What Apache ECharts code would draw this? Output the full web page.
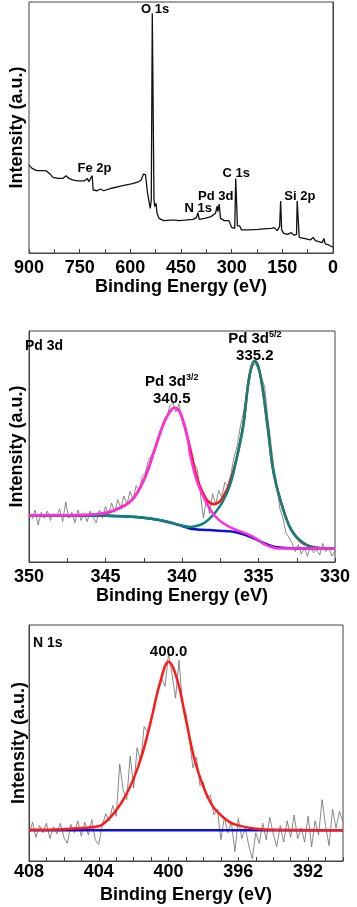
<!DOCTYPE html>
<html>
<head>
<meta charset="utf-8">
<script src="https://cdn.jsdelivr.net/npm/echarts@6/dist/echarts.min.js"></script>
<style>
  html, body { margin: 0; padding: 0; background: #fff; }
  #main { width: 357px; height: 907px; }
</style>
</head>
<body>
<div id="main"></div>
<script>
// XPS 数据 (binding energy, intensity a.u.)
var surveyData = [
  [900, 35.1], [891, 33.7], [877, 32.8], [862, 32.8], [848, 32.7], [838, 31.5], [829, 30.1],
  [814, 29.7], [800, 29.7], [790, 30.8], [782, 29.7], [771, 29.1], [756, 28.7], [737, 28.7],
  [727, 29.7], [723, 28.4], [718, 29.1], [713, 30.8], [710, 25.1], [698, 24.8], [689, 25.5],
  [679, 24.8], [655, 25.8], [626, 26.7], [597, 27.5], [578, 28.2], [568, 29.1], [561, 31.5],
  [555, 31.1], [549, 23.8], [541, 17.8], [538, 21.1], [535, 95.5], [532, 95.5], [530, 21.1],
  [528, 18.5], [524, 19.8], [521, 15.8], [515, 13.8], [501, 12.9], [481, 13.1], [467, 13.1],
  [462, 13.8], [457, 12.9], [438, 13.1], [414, 13.4], [404, 14.2], [400, 16.1], [396, 13.4],
  [380, 13.8], [361, 14.5], [348, 15.8], [343, 18.7], [341, 16.5], [337, 19.5], [333, 13.8],
  [322, 12.9], [308, 12.9], [300, 10.2], [291, 9.8], [288, 29.7], [285, 29.7], [283, 10.8],
  [279, 10.1], [276, 10.8], [271, 9.2], [250, 9.2], [221, 9.4], [197, 9.7], [182, 9.8],
  [174, 10.1], [165, 8.9], [158, 10.5], [155, 20.7], [152, 9.2], [146, 7.8], [134, 7.4],
  [124, 8.1], [115, 7.1], [108, 7.4], [106, 20.7], [103, 20.7], [100, 6.2], [96, 6.8],
  [86, 5.8], [67, 5.2], [59, 6.2], [52, 4.9], [32, 4.1], [27, 5.8], [23, 3.6], [13, 3.2], [0, 2.3]
]
var surveyLabels = [
  ['O 1s', 526.7, 97.0], ['Fe 2p', 706, 33.5], ['N 1s', 399, 17.9],
  ['Pd 3d', 347, 22.7], ['C 1s', 286.5, 31.9], ['Si 2p', 98, 22.7]
]

var pdRaw = [
  [349.8, 18.5], [349.6, 22.5], [349.4, 16.0], [349.2, 21.5], [349.0, 19.0], [348.8, 22.0],
  [348.6, 18.0], [348.4, 21.0], [348.2, 19.5], [348.0, 23.0], [347.8, 17.5], [347.6, 26.0],
  [347.4, 19.0], [347.2, 21.5], [347.0, 17.0], [346.8, 22.5], [346.6, 18.0], [346.4, 21.0],
  [346.2, 17.5], [346.0, 22.0], [345.8, 19.0], [345.6, 17.0], [345.4, 22.5], [345.2, 19.0],
  [345.0, 24.0], [344.8, 20.5], [344.6, 25.5], [344.4, 21.5], [344.2, 27.0], [344.0, 23.5],
  [343.8, 28.5], [343.6, 25.0], [343.4, 30.5], [343.2, 27.0], [343.0, 33.0], [342.8, 31.0],
  [342.6, 37.0], [342.4, 38.5], [342.2, 44.0], [342.0, 46.0], [341.8, 48.0], [341.6, 53.5],
  [341.4, 56.0], [341.2, 60.5], [341.0, 62.5], [340.8, 67.5], [340.6, 69.0], [340.4, 65.0],
  [340.2, 68.5], [340.0, 61.5], [339.8, 58.5], [339.6, 54.0], [339.4, 48.5], [339.2, 42.5],
  [339.0, 40.0], [338.8, 30.0], [338.6, 19.0], [338.4, 27.5], [338.2, 21.0], [338.0, 29.5],
  [337.8, 25.0], [337.6, 31.0], [337.4, 28.0], [337.2, 34.5], [337.0, 33.0], [336.8, 38.0],
  [336.6, 45.5], [336.4, 50.0], [336.2, 58.0], [336.0, 64.5], [335.8, 72.0], [335.6, 79.0],
  [335.4, 84.5], [335.2, 86.0], [335.0, 83.5], [334.8, 79.5], [334.6, 76.0], [334.4, 63.0],
  [334.2, 52.0], [334.0, 41.0], [333.8, 33.5], [333.6, 23.0], [333.4, 19.0], [333.2, 12.5],
  [333.0, 10.5], [332.8, 8.0], [332.6, 4.5], [332.4, 7.5], [332.2, 3.5], [332.0, 6.0],
  [331.8, 2.5], [331.6, 7.0], [331.4, 4.0], [331.2, 5.5], [331.0, 3.0], [330.8, 8.0],
  [330.6, 4.5], [330.4, 6.0], [330.2, 2.5], [330.0, 5.0]
]
var pdBackground = [
  [350, 20.2], [345, 20.0], [343, 19.5], [342, 18.7], [341, 17.4], [340, 15.6], [339.5, 14.5],
  [339, 14.1], [338.5, 13.9], [338, 13.7], [337, 13.3], [336.5, 12.9], [336, 12.0], [335.5, 10.8],
  [335, 9.3], [334.5, 7.8], [334, 6.6], [333, 6.0], [332, 5.8], [330, 5.8]
]
var pdEnvelope = [
  [350, 20.2], [346, 20.4], [345, 21.0], [344.4, 22.4], [343.3, 26.7], [342.5, 35.4],
  [341.8, 48.4], [341.2, 60.0], [340.8, 65.0], [340.5, 66.8], [340.1, 64.3], [339.6, 52.7],
  [339.0, 36.0], [338.6, 29.5], [338.3, 26.3], [337.9, 25.0], [337.5, 26.5], [337.2, 29.5],
  [336.9, 34.0], [336.5, 43.0], [336.0, 59.0], [335.6, 80.2], [335.25, 87.0], [334.9, 81.6],
  [334.4, 58.5], [334.0, 38.3], [333.3, 21.0], [332.7, 12.3], [331.8, 7.2], [330, 5.8]
]
var pd52 = [
  [350, 20.2], [345, 20.0], [343, 19.5], [342, 18.7], [341, 17.5], [340, 15.8], [339.5, 15.2],
  [339.05, 15.6], [338.6, 16.7], [338.2, 18.8], [337.8, 21.6], [337.35, 26.0], [336.9, 32.5],
  [336.5, 42.6], [336.0, 59.0], [335.6, 80.2], [335.25, 87.0], [334.9, 81.6], [334.4, 58.5],
  [334.0, 38.3], [333.3, 21.0], [332.7, 12.3], [331.8, 7.2], [331, 6.0], [330, 5.8]
]
var pd32 = [
  [350, 20.2], [346.1, 20.5], [344.4, 22.4], [343.3, 26.7], [342.5, 35.4], [341.8, 48.4],
  [341.2, 60.0], [340.8, 65.0], [340.5, 66.8], [340.1, 64.3], [339.6, 52.7], [339.48, 47.0],
  [339.05, 35.5], [338.6, 28.3], [338.2, 23.2], [337.8, 19.6], [337.35, 17.0], [336.7, 14.6],
  [335.6, 11.7], [335.0, 9.5], [334.6, 7.6], [334.0, 6.2], [333.5, 5.8], [330, 5.8]
]

var nRaw = [
  [408.0, 11.0], [407.8, 16.5], [407.6, 10.0], [407.4, 15.0], [407.2, 12.0], [407.0, 16.0],
  [406.8, 9.5], [406.6, 14.5], [406.4, 11.5], [406.2, 16.0], [406.0, 10.0], [405.8, 7.5],
  [405.6, 15.5], [405.4, 12.0], [405.2, 17.0], [405.0, 10.5], [404.8, 16.5], [404.6, 11.0],
  [404.4, 17.5], [404.2, 9.0], [404.0, 7.0], [403.8, 15.0], [403.6, 20.0], [403.4, 17.0],
  [403.2, 23.5], [403.0, 19.0], [402.8, 41.0], [402.6, 30.0], [402.4, 26.0], [402.2, 44.5],
  [402.0, 31.0], [401.8, 48.0], [401.6, 42.0], [401.4, 57.0], [401.2, 54.5], [401.0, 59.0],
  [400.8, 67.5], [400.6, 72.0], [400.4, 77.5], [400.2, 74.0], [400.0, 88.0], [399.8, 79.0],
  [399.6, 69.0], [399.4, 85.0], [399.2, 66.0], [399.0, 62.5], [398.8, 51.0], [398.6, 39.5],
  [398.4, 44.0], [398.2, 32.0], [398.0, 33.5], [397.8, 26.5], [397.6, 28.0], [397.4, 19.5],
  [397.2, 22.0], [397.0, 9.0], [396.8, 18.5], [396.6, 12.0], [396.4, 16.5], [396.2, 4.0],
  [396.0, 18.0], [395.8, 9.5], [395.6, 14.0], [395.4, 6.5], [395.2, 1.0], [395.0, 12.0],
  [394.8, 7.5], [394.6, 16.0], [394.4, 9.0], [394.2, 18.5], [394.0, 11.5], [393.8, 6.0],
  [393.6, 15.0], [393.4, 8.0], [393.2, 17.0], [393.0, 10.0], [392.8, 19.5], [392.6, 9.5],
  [392.4, 14.0], [392.2, 8.0], [392.0, 19.0], [391.8, 6.0], [391.6, 17.0], [391.4, 11.0],
  [391.2, 26.0], [391.0, 15.0], [390.8, 6.5], [390.6, 22.0], [390.4, 14.0], [390.2, 21.0],
  [390.0, 16.5]
]
var nFit = [
  [408, 13.2], [406, 13.5], [405, 14.0], [404, 14.7], [403.5, 17.3], [403, 21.5], [402.5, 27.2],
  [402, 34.9], [401.5, 45.5], [401, 59.7], [400.5, 75.2], [400, 84.4], [399.5, 76.7],
  [399, 59.7], [398.5, 42.7], [398, 31.4], [397.5, 23.6], [397, 19.4], [396.5, 16.5],
  [396, 15.1], [395, 13.7], [394, 13.2], [390, 13.0]
]
var nBackground = [[408, 13.0], [390, 13.0]]

var myChart = echarts.init(document.getElementById('main'))

var FONT = 'Liberation Sans, Arial, sans-serif'
var AXIS_COLOR = '#444'

// 公共的 x 轴
function makeX(idx, min, max, interval, minor, gap, margin, formatter) {
  return {
    type: 'value',
    gridIndex: idx,
    min: min,
    max: max,
    interval: interval,
    inverse: true,
    name: 'Binding Energy (eV)',
    nameLocation: 'middle',
    nameGap: gap,
    nameTextStyle: { fontFamily: FONT, fontWeight: 'bold', fontSize: 18, color: '#000' },
    axisLine: { lineStyle: { color: AXIS_COLOR, width: 1 } },
    axisTick: { inside: true, length: 4, lineStyle: { color: AXIS_COLOR } },
    minorTick: { show: minor > 0, splitNumber: minor || 5, length: 4, lineStyle: { color: AXIS_COLOR } },
    splitLine: { show: false },
    axisLabel: {
      margin: margin,
      fontFamily: FONT, fontWeight: 'bold', fontSize: 18, color: '#000',
      formatter: formatter
    }
  }
}
function makeY(idx, gap) {
  return {
    type: 'value',
    gridIndex: idx,
    min: 0,
    max: 100,
    name: 'Intensity (a.u.)',
    nameLocation: 'middle',
    nameGap: gap,
    nameTextStyle: { fontFamily: FONT, fontWeight: 'bold', fontSize: 18, color: '#000' },
    axisLine: { show: true, lineStyle: { color: AXIS_COLOR, width: 1 } },
    axisTick: { show: false },
    axisLabel: { show: false },
    splitLine: { show: false }
  }
}

function labelPoints(list, size) {
  return {
    symbol: 'circle',
    symbolSize: 0,
    silent: true,
    label: {
      show: true, position: 'inside', formatter: '{b}',
      fontFamily: FONT, fontWeight: 'bold', fontSize: size, color: '#000'
    },
    data: list.map(function (d) { return { name: d[0], coord: [d[1], d[2]] } })
  }
}

var supRich = {
  a: { fontFamily: FONT, fontWeight: 'bold', fontSize: 15, color: '#000', lineHeight: 16 },
  s: { fontFamily: FONT, fontWeight: 'bold', fontSize: 9, color: '#000', padding: [0, 0, 9, 0] }
}

function line(idx, data, color, width, smooth, z, mp) {
  var s = {
    type: 'line',
    xAxisIndex: idx,
    yAxisIndex: idx,
    data: data,
    symbol: 'none',
    smooth: smooth,
    z: z,
    lineStyle: { color: color, width: width },
    silent: true
  }
  if (mp) s.markPoint = mp
  return s
}

var option = {
  animation: false,
  backgroundColor: '#fff',
  title: [
    { text: 'Pd 3d', left: 25, top: 339, padding: 0,
      textStyle: { fontFamily: FONT, fontWeight: 'bold', fontSize: 14, color: '#000' } },
    { text: 'N 1s', left: 33, top: 636, padding: 0,
      textStyle: { fontFamily: FONT, fontWeight: 'bold', fontSize: 14, color: '#000' } }
  ],
  grid: [
    { left: 22, top: 2, width: 311, height: 251, show: true, borderColor: AXIS_COLOR, borderWidth: 1 },
    { left: 22, top: 331, width: 313, height: 231, show: true, borderColor: AXIS_COLOR, borderWidth: 1 },
    { left: 29, top: 625, width: 314, height: 236, show: true, borderColor: AXIS_COLOR, borderWidth: 1 }
  ],
  xAxis: [
    makeX(0, 0, 900, 150, 2, 24, 6),
    makeX(1, 330, 350, 5, 2, 22, 6),
    makeX(2, 390, 408, 1, 0, 25, 2, function (v) { return (v - 392) % 4 === 0 ? String(v) : '' })
  ],
  yAxis: [makeY(0, 3), makeY(1, 3), makeY(2, 1)],
  series: [
    line(0, surveyData, '#111', 1.3, false, 2, labelPoints(surveyLabels, 13)),

    line(1, pdRaw, '#6b6b6b', 0.8, false, 2),
    line(1, pdBackground, '#1010d0', 2.5, 0.4, 3),
    line(1, pdEnvelope, '#ff1010', 2.5, 0.4, 4),
    line(1, pd52, '#0b8479', 2.5, 0.4, 5, {
      symbol: 'circle', symbolSize: 0, silent: true,
      label: { show: true, position: 'inside', rich: supRich,
        formatter: '{a|Pd 3d}{s|5/2}\n{a|335.2}' },
      data: [{ coord: [335.24, 93.1] }]
    }),
    line(1, pd32, '#ff2ee0', 2.5, 0.4, 6, {
      symbol: 'circle', symbolSize: 0, silent: true,
      label: { show: true, position: 'inside', rich: supRich,
        formatter: '{a|Pd 3d}{s|3/2}\n{a|340.5}' },
      data: [{ coord: [340.67, 74.5] }]
    }),

    line(2, nRaw, '#6b6b6b', 0.8, false, 2),
    line(2, nBackground, '#1010d0', 2.5, false, 3),
    line(2, nFit, '#ff1a1a', 2.5, 0.4, 4, labelPoints([['400.0', 400, 88.6]], 15))
  ]
}

myChart.setOption(option)
</script>
</body>
</html>
